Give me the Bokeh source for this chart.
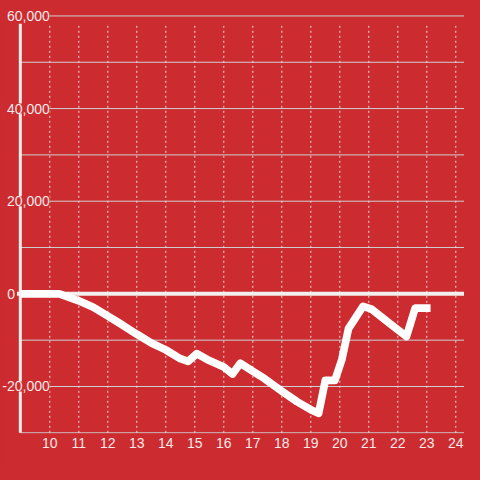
from bokeh.plotting import figure
from bokeh.models import Range1d, FixedTicker, ColumnDataSource, LabelSet, GlobalInlineStyleSheet
from bokeh.core.properties import value
from bokeh.embed import file_html
from bokeh.resources import INLINE

# ---- data ----
hours = [9.0, 10.33, 11.0, 11.5, 12.0, 12.5, 13.0, 13.5, 14.0, 14.5, 14.77, 15.07,
         15.5, 16.0, 16.3, 16.57, 17.0, 17.4, 18.0, 18.53, 19.0, 19.27, 19.5, 19.83,
         20.07, 20.3, 20.8, 21.1, 21.7, 22.3, 22.6, 23.13]
balance = [0, 0, -1500, -2900, -4800, -6700, -8700, -10600, -12100, -14000, -14600, -12900,
           -14400, -15800, -17300, -15000, -16700, -18300, -21000, -23300, -25000, -25800,
           -18700, -18700, -14200, -7500, -2700, -3300, -6300, -9200, -3100, -3100]

x_ticks = list(range(10, 25))
y_label_values = [60000, 40000, 20000, 0, -20000]
y_label_text = ["60,000", "40,000", "20,000", "0", "-20,000"]
y_grid_values = [60000, 50000, 40000, 30000, 20000, 10000, -10000, -20000, -30000]

# ---- style ----
BG = "#cc2b2f"
TEXT = "#f6e8e8"
FONT = "Liberation Sans"
FS = "14px"

X0, X1 = 8.3, 24.3
Y0, Y1 = -30150, 63333
BAR_X = 8.983
GRID_TOP = 58333

p = figure(width=464, height=464, output_backend="svg", toolbar_location=None,
           x_range=Range1d(X0, X1), y_range=Range1d(Y0, Y1),
           min_border_left=0, min_border_right=0, min_border_top=0, min_border_bottom=31,
           background_fill_color=BG, border_fill_color=BG, outline_line_color=None)
p.stylesheets = [GlobalInlineStyleSheet(css="html, body { background-color: #cc2b2f; }")]

p.yaxis.visible = False
p.xgrid.visible = False
p.ygrid.visible = False

ax = p.xaxis[0]
ax.ticker = FixedTicker(ticks=x_ticks)
ax.axis_line_color = None
ax.major_tick_line_color = None
ax.minor_tick_line_color = None
ax.major_tick_out = 0
ax.major_tick_in = 0
ax.major_label_standoff = 4
ax.major_label_text_font = FONT
ax.major_label_text_font_size = FS
ax.major_label_text_color = TEXT

# horizontal grid
p.segment(x0=[BAR_X] * len(y_grid_values), x1=[X1] * len(y_grid_values),
          y0=y_grid_values, y1=y_grid_values, line_color="#ccd2d2", line_width=1)
# vertical dotted grid
p.segment(x0=x_ticks, x1=x_ticks, y0=[Y0 + 150] * len(x_ticks), y1=[GRID_TOP] * len(x_ticks),
          line_color="#ecdede", line_width=1, line_dash="2 3")
# y axis bar
p.segment(x0=[BAR_X], x1=[BAR_X], y0=[Y0 + 150], y1=[GRID_TOP], line_color="#f2eeee", line_width=3)
# zero line
p.segment(x0=[8.867], x1=[X1], y0=[0], y1=[0], line_color="#f4efef", line_width=4)

# data line
p.line(hours, balance, line_color="white", line_width=7.7, line_join="round", line_cap="butt")

# y labels inside the plot area
label_x = [8.8 if v == 0 else 10.0 for v in y_label_values]
src = ColumnDataSource(dict(x=label_x, y=y_label_values, t=y_label_text))
p.add_layout(LabelSet(x="x", y="y", text="t", source=src, text_align="right",
                      text_baseline="middle", text_font=value(FONT), text_font_size=value(FS),
                      text_color=value(TEXT), background_fill_color=value(BG)))

open("out.html", "w").write(file_html(p, INLINE))
